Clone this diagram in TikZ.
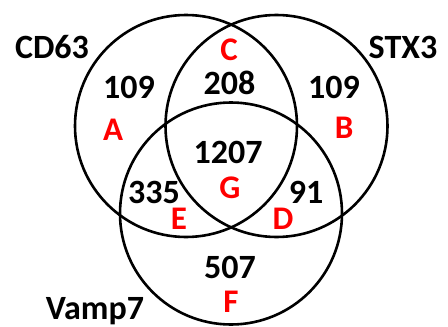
\documentclass[tikz,border=0pt]{standalone}
\usepackage{fontspec}
\setmainfont{Carlito}
\begin{document}
\begin{tikzpicture}[x=1pt,y=-1pt,
  ring/.style={draw=black,line width=2.6pt},
  num/.style={font=\fontsize{34}{34}\selectfont\bfseries,text=black,inner sep=0pt},
  lab/.style={font=\fontsize{33}{33}\selectfont\bfseries,text=red,inner sep=0pt},
  setname/.style={font=\fontsize{34}{34}\selectfont\bfseries,text=black,inner sep=0pt}]
\useasboundingbox (0,0) rectangle (448,327);
\fill[white] (0,0) rectangle (448,327);
\draw[ring] (186,126) circle[radius=111];
\draw[ring] (276.5,126) circle[radius=111];
\draw[ring] (231,213.5) circle[radius=111];
\node[setname] (cd63) at (52,47) {CD63};
\node[setname] (stx3) at (403,47) {STX3};
\node[setname] (vamp) at (95,311) {Vamp7};
\node[num] (nA) at (129,87) {109};
\node[lab] (lA) at (113,130) {A};
\node[num] (nB) at (334,87) {109};
\node[lab] (lB) at (344,128) {B};
\node[num] (nC) at (229.5,83) {208};
\node[lab] (lC) at (229,50) {C};
\node[num] (nG) at (228,152) {1207};
\node[lab] (lG) at (230,188) {G};
\node[num] (nE) at (154,192) {335};
\node[lab] (lE) at (179,219) {E};
\node[num] (nD) at (306,192) {91};
\node[lab] (lD) at (283,219) {D};
\node[num] (nF) at (230,267) {507};
\node[lab] (lF) at (231,302) {F};
\end{tikzpicture}
\end{document}
